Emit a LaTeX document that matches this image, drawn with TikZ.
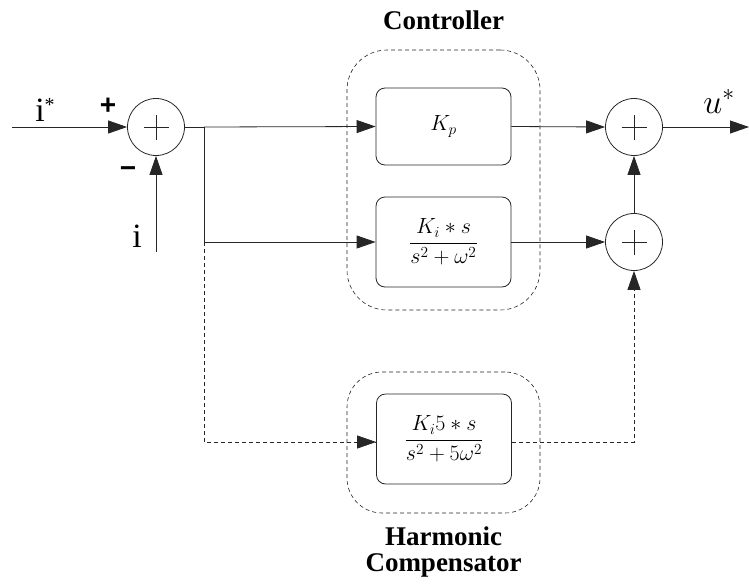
\RequirePackage{fix-cm}
\documentclass[tikz,border=0pt]{standalone}
\usepackage{amsmath}
\usepackage{fontspec}
\setmainfont{Liberation Serif}
\newfontfamily\signfont{Liberation Sans}
\usetikzlibrary{arrows.meta,calc}
\begin{document}
\begin{tikzpicture}[x=1pt,y=-1pt,
  line/.style={line width=0.8pt, draw=black!85},
  arr/.style={line, -{Triangle[length=19pt,width=13pt]}},
  dsh/.style={dash pattern=on 4pt off 3pt},
  sumnode/.style={circle, line, minimum size=57pt, inner sep=0pt,
    path picture={\draw[line width=1pt] (path picture bounding box.center) +(-12.5pt,0pt) -- +(12.5pt,0pt)
      (path picture bounding box.center) +(0pt,-12.5pt) -- +(0pt,12.5pt);}},
  block/.style={line, rounded corners=9pt, minimum width=135pt, inner sep=0pt,
    font=\fontsize{22}{26}\selectfont},
  grp/.style={line width=0.6pt, draw=black!85, dsh, inner sep=0pt},
  title/.style={font=\fontsize{27}{26}\selectfont\bfseries, align=center},
  sig/.style={font=\fontsize{34}{36}\selectfont, anchor=base},
  sgn/.style={font=\signfont\fontsize{28}{28}\selectfont\bfseries}
]
\useasboundingbox (0,0) rectangle (749,584);
% groups
\node[grp, rounded corners=40pt, minimum width=193pt, minimum height=260pt] (ctrl) at (443.5,180) {};
\node[grp, rounded corners=35pt, minimum width=193pt, minimum height=141pt] (harm) at (443.5,442.5) {};
\node[title, anchor=base] (tc) at (443.5,29) {Controller};
\node[title, anchor=base] (th) at (443.5,571) {Harmonic\\Compensator};
% sums
\node[sumnode] (s1) at (156,127) {};
\node[sumnode] (s2) at (634,127) {};
\node[sumnode] (s3) at (634,242) {};
% blocks
\node[block, minimum height=77pt] (kp) at (443.5,126.5) {$K_p$};
\node[block, minimum height=90pt] (ki) at (443.5,242) {$\dfrac{K_i \ast s}{s^2+\omega^2}$};
\node[block, minimum height=90pt] (kh) at (444,439) {$\dfrac{K_i 5 \ast s}{s^2+5\omega^2}$};
% coordinates
\coordinate (in) at (12,127);
\coordinate (ib) at (156,252);
\coordinate (b1) at (204,127);
\coordinate (b2) at (204,242);
\coordinate (b3) at (204,442);
\coordinate (c3) at (634,442);
\coordinate (out) at (749,127);
% labels
\node[sig] (li) at (45,121) {i\raisebox{10pt}{\fontsize{20}{20}\selectfont *}};
\node[sig] (lib) at (137,247) {i};
\node[sig] (lu) at (719,113) {$u^{\ast}$};
\node[sgn] (lp) at (108,106) {+};
\node[sgn] (lm) at (128,172) {−};
% connectors
\draw[arr] (in) -- (s1.west);
\draw[arr] (ib) -- (s1.south);
\draw[line] (s1.east) -- (b1);
\draw[arr] (b1) -- (kp.west);
\draw[line] (b1) -- (b2);
\draw[arr] (b2) -- (ki.west);
\draw[line, dsh] (b2) -- (b3) -- (kh.west |- b3);
\draw[arr] ($(kh.west |- b3)+(-20,0)$) -- (kh.west |- b3);
\draw[line, dsh] (kh.east |- b3) -- (c3) -- ($(s3.south)+(0,19)$);
\draw[arr] ($(s3.south)+(0,19)$) -- (s3.south);
\draw[arr] (kp.east) -- (s2.west);
\draw[arr] (ki.east) -- (s3.west);
\draw[arr] (s3.north) -- (s2.south);
\draw[arr] (s2.east) -- (out);
\end{tikzpicture}
\end{document}
